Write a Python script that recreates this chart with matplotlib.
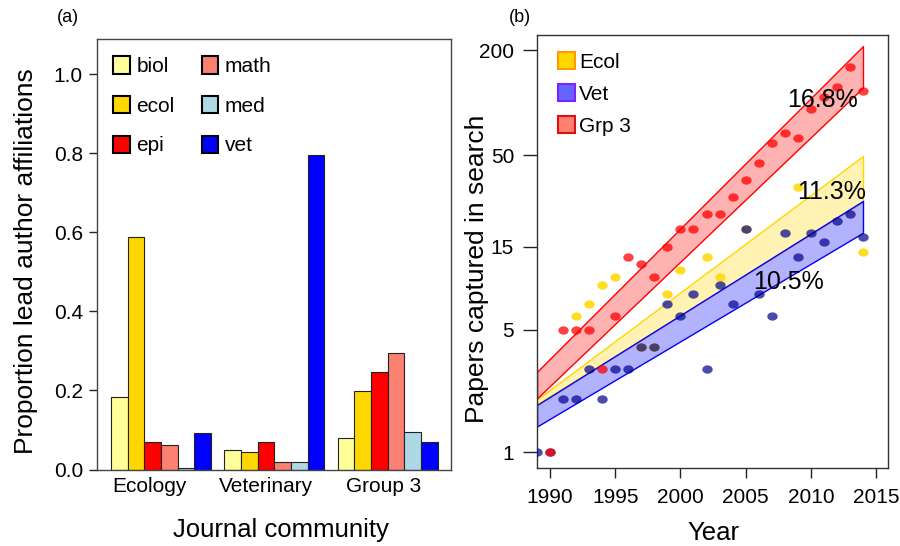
import matplotlib
matplotlib.use('Agg')
import matplotlib.pyplot as plt
import numpy as np
from matplotlib.path import Path
from matplotlib.transforms import Affine2D
from matplotlib.patches import Patch

plt.rcParams['font.family'] = ['Liberation Sans', 'DejaVu Sans']

# ---- panel (a): lead author affiliations ----
communities = ['Ecology', 'Veterinary', 'Group 3']
fields = ['biol', 'ecol', 'epi', 'math', 'med', 'vet']
field_colors = ['#ffff99', '#ffd700', '#ff0000', '#fa8072', '#add8e6', '#0000ff']
props = {
    'Ecology':    [0.183, 0.588, 0.069, 0.062, 0.004, 0.093],
    'Veterinary': [0.050, 0.044, 0.069, 0.019, 0.019, 0.796],
    'Group 3':    [0.080, 0.198, 0.247, 0.295, 0.095, 0.069],
}

# ---- panel (b): papers per year ----
vet_years = [1989, 1990, 1991, 1992, 1993, 1994, 1995, 1996, 1997, 1998, 1999,
             2000, 2001, 2002, 2003, 2004, 2005, 2006, 2007, 2008, 2009, 2010,
             2011, 2012, 2013, 2014]
vet_counts = [1, 1, 2, 2, 3, 2, 3, 3, 4, 4, 7, 6, 8, 3, 9, 7, 19, 8, 6, 18, 13,
              18, 16, 21, 23, 17]
grp3_years = [1990, 1991, 1992, 1993, 1994, 1995, 1996, 1997, 1998, 1999, 2000,
              2001, 2002, 2003, 2004, 2005, 2006, 2007, 2008, 2009, 2010, 2011,
              2012, 2013, 2014]
grp3_counts = [1, 5, 5, 5, 3, 6, 13, 12, 10, 15, 19, 19, 23, 23, 29, 36, 45, 59,
               67, 63, 92, 108, 123, 159, 117]
ecol_years = [1992, 1993, 1994, 1995, 1997, 1998, 1999, 2000, 2002, 2003, 2005,
              2009, 2014]
ecol_counts = [6, 7, 9, 10, 4, 4, 8, 11, 13, 10, 19, 33, 14]

# fitted bands (lower/upper edge at first and last year)
band_years = [1989, 2014]
ecol_band = ([1.88, 27.1], [2.0, 49.5])
vet_band = ([1.40, 18.0], [1.86, 27.4])
grp3_band = ([2.03, 122.0], [2.88, 211.0])
growth = {'Grp 3': '16.8%', 'Ecol': '11.3%', 'Vet': '10.5%'}

W, H = 900.0, 546.0
fig = plt.figure(figsize=(9, 5.46), dpi=100)

# ================= (a) =================
ax1 = fig.add_axes([0.1078, 0.140, 0.3933, 0.7885])
bw = 1.0
group_gap = 0.8
n = len(fields)
for gi, comm in enumerate(communities):
    start = gi * (n * bw + group_gap)
    for fi in range(n):
        ax1.bar(start + fi * bw, props[comm][fi], bw, align='edge',
                color=field_colors[fi], edgecolor='#222222', linewidth=0.8)
ax1.set_xlim(-0.84, 20.4)
ax1.set_ylim(0, 1.089)
ax1.set_yticks(np.arange(0, 1.01, 0.2))
ax1.set_yticklabels(['%.1f' % v for v in np.arange(0, 1.01, 0.2)])
ax1.set_xticks([2.28, 9.27, 16.38])
ax1.set_xticklabels(communities)
ax1.tick_params(axis='y', direction='out', length=5.8, width=1, pad=4.3,
                labelsize=15, colors='#222222', labelcolor='black')
ax1.tick_params(axis='x', length=0, pad=5, labelsize=15)
for s in ax1.spines.values():
    s.set_linewidth(1.0)
    s.set_color('#444444')
fig.text(26 / W, 1 - 261 / H, 'Proportion lead author affiliations',
         fontsize=19, rotation=90, ha='center', va='center')

handles = [Patch(facecolor=c, edgecolor='black', linewidth=1.5) for c in field_colors]
ax1.legend(handles, fields, ncol=2, loc='upper left',
           bbox_to_anchor=(0.046, 0.96), frameon=False, fontsize=15,
           handlelength=0.8, handleheight=0.9, handletextpad=0.3,
           labelspacing=0.95, columnspacing=1.3, borderpad=0, borderaxespad=0)
fig.text(281 / W, 1 - 530 / H, 'Journal community', fontsize=18.5,
         ha='center', va='center')
fig.text(68 / W, 1 - 18 / H, '(a)', fontsize=13, ha='center', va='center')

# ================= (b) =================
ax2 = fig.add_axes([0.5967, 0.1423, 0.39, 0.794])
ax2.set_yscale('log')

band_styles = [(ecol_band, '#ffd700'), (vet_band, '#0000ff'), (grp3_band, '#ff0000')]
for (lo, hi), col in band_styles:
    ax2.fill_between(band_years, lo, hi, facecolor=matplotlib.colors.to_rgba(col, 0.3),
                     edgecolor=col, linewidth=1.0, zorder=2)

ell = Path.unit_circle().transformed(Affine2D().scale(1.25, 1.0))
ax2.plot(ecol_years, ecol_counts, linestyle='none', marker=ell, ms=7.5,
         mew=0, color='#ffd700', alpha=0.85, zorder=3)
ax2.plot(vet_years, vet_counts, linestyle='none', marker=ell, ms=7.5,
         mew=0, color='#00008b', alpha=0.7, zorder=3)
ax2.plot(grp3_years, grp3_counts, linestyle='none', marker=ell, ms=7.5,
         mew=0, color='#ff0000', alpha=0.75, zorder=3)

ax2.text(2010.86, 103.5, growth['Grp 3'], fontsize=18, ha='center', va='center', zorder=4)
ax2.text(2011.6, 30.8, growth['Ecol'], fontsize=18, ha='center', va='center', zorder=4)
ax2.text(2008.25, 9.4, growth['Vet'], fontsize=18, ha='center', va='center', zorder=4)

ax2.set_xlim(1989.0, 2015.92)
ax2.set_ylim(0.807, 244.7)
yt = [1, 5, 15, 50, 200]
ax2.set_yticks(yt)
ax2.set_yticklabels([str(v) for v in yt])
ax2.yaxis.set_minor_locator(matplotlib.ticker.NullLocator())
ax2.set_xticks(range(1990, 2016, 5))
ax2.tick_params(axis='y', direction='out', length=10, width=1, pad=6.5,
                labelsize=15, colors='#222222', labelcolor='black')
ax2.tick_params(axis='x', direction='out', length=7.2, width=1, pad=7,
                labelsize=15, colors='#222222', labelcolor='black')
for s in ax2.spines.values():
    s.set_linewidth(1.0)
    s.set_color('#333333')
fig.text(477 / W, 1 - 269 / H, 'Papers captured in search',
         fontsize=19, rotation=90, ha='center', va='center')
fig.text(713 / W, 1 - 533 / H, 'Year', fontsize=18.5, ha='center', va='center')

leg_handles = [Patch(facecolor='#ffd700', edgecolor='#ff9900', linewidth=1.5),
               Patch(facecolor='#6464ff', edgecolor='#7a22ff', linewidth=1.5),
               Patch(facecolor='#ff8070', edgecolor='#dd1111', linewidth=1.5)]
ax2.legend(leg_handles, ['Ecol', 'Vet', 'Grp 3'], loc='upper left',
           bbox_to_anchor=(0.061, 0.96), frameon=False, fontsize=15,
           handlelength=0.8, handleheight=0.9, handletextpad=0.2,
           labelspacing=0.58, borderpad=0, borderaxespad=0)
fig.text(520 / W, 1 - 17 / H, '(b)', fontsize=13, ha='center', va='center')

fig.savefig('out.png', dpi=100)
